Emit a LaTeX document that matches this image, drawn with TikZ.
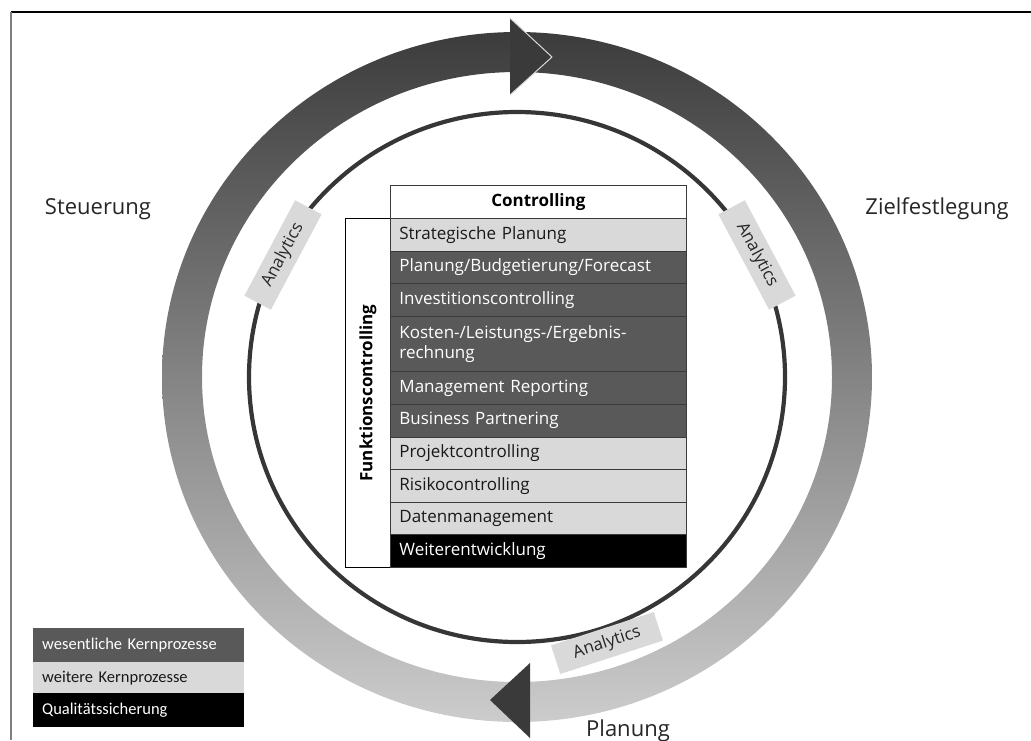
\documentclass[tikz,border=0pt]{standalone}
\usepackage{fontspec}
\setmainfont{Open Sans}
\newfontfamily\legendfont{Carlito}
\definecolor{ringtop}{HTML}{3C3C3C}
\definecolor{ringmid}{HTML}{686868}
\definecolor{ringbottom}{HTML}{CCCCCC}
\definecolor{arrowfill}{HTML}{3A3A3A}
\definecolor{circleline}{HTML}{363636}
\definecolor{lightrow}{HTML}{D9D9D9}
\definecolor{darkrow}{HTML}{595959}
\definecolor{rowline}{HTML}{3A3A3A}
\begin{document}
\begin{tikzpicture}[x=1pt, y=-1pt,
    rowlight/.style={draw=rowline, line width=0.8pt, fill=lightrow, text=black!90,
      anchor=north west, minimum width=296pt, text width=278pt, inner xsep=9pt,
      align=left, font=\fontsize{17}{20}\selectfont},
    rowdark/.style={rowlight, fill=darkrow, text=white},
    rowblack/.style={rowlight, fill=black, text=white},
    analyticsbox/.style={fill=lightrow, minimum width=108pt, minimum height=30pt,
      inner sep=0pt, text=black!85, font=\fontsize{17}{20}\selectfont},
    phaselabel/.style={anchor=base, text=black!85, font=\fontsize{22}{26}\selectfont},
    legendrow/.style={anchor=north west, minimum width=211pt, text width=193pt,
      inner xsep=9pt, align=left, font=\legendfont\fontsize{16.5}{19}\selectfont}]
  \useasboundingbox (0,0) rectangle (1031,740);
  % frame
  \draw[black, line width=1.2pt] (11,12) -- (1031,12);
  \draw[gray, line width=1.5pt] (11,12) -- (11,740);

  \coordinate (hub) at (517,377);
  % outer ring with both arrow heads
  \shade[top color=ringtop, middle color=ringmid, bottom color=ringbottom, even odd rule]
    (hub) ellipse [x radius=355, y radius=345] (hub) ellipse [x radius=315, y radius=305];
  \fill[arrowfill] (510,18) -- (552,57) -- (510,95) -- cycle;
  \draw[lightrow, line width=1pt] (510,18) -- (552,57) -- (510,95);
  \fill[arrowfill] (530,663) -- (490,700) -- (530,738) -- cycle;

  % inner circle
  \draw[circleline, line width=4.2pt] (hub) ellipse [x radius=268, y radius=265];
  \node[analyticsbox, rotate=62] (analyticsleft) at (283,255) {Analytics};
  \node[analyticsbox, rotate=-62] (analyticsright) at (757,255) {Analytics};
  \node[analyticsbox, rotate=18] (analyticsbottom) at (607,643) {Analytics};

  \node[phaselabel] (steuerung) at (98,214) {Steuerung};
  \node[phaselabel] (ziel) at (937,214) {Zielfestlegung};
  \node[phaselabel] (planung) at (628,736) {Planung};

  % table
  \node[draw=black, line width=1pt, anchor=north west, minimum width=45pt,
    minimum height=349pt, inner sep=0pt] (funktion) at (345,218) {};
  \node[rotate=90, font=\fontsize{17}{20}\selectfont\bfseries] (funktionlabel)
    at (funktion.center) {Funktionscontrolling};
  \node[draw=rowline, line width=0.8pt, fill=white, anchor=north west, minimum width=296pt,
    minimum height=33pt, font=\fontsize{17}{20}\selectfont\bfseries] (controlling)
    at (390,185) {Controlling};
  \node[rowlight, minimum height=32.6pt] (strategie) at (390,218) {Strategische Planung};
  \node[rowdark, minimum height=32.6pt] (budget) at (390,250.6) {Planung/Budgetierung/Forecast};
  \node[rowdark, minimum height=32.6pt] (invest) at (390,283.2) {Investitionscontrolling};
  \node[rowdark, minimum height=55.6pt] (kosten) at (390,315.8) {Kosten-/Leistungs-/Ergebnis-\\rechnung};
  \node[rowdark, minimum height=32.6pt] (reporting) at (390,371.4) {Management Reporting};
  \node[rowdark, minimum height=32.6pt] (partner) at (390,404) {Business Partnering};
  \node[rowlight, minimum height=32.6pt] (projekt) at (390,436.6) {Projektcontrolling};
  \node[rowlight, minimum height=32.6pt] (risiko) at (390,469.2) {Risikocontrolling};
  \node[rowlight, minimum height=32.6pt] (daten) at (390,501.8) {Datenmanagement};
  \node[rowblack, minimum height=32.6pt] (weiter) at (390,534.4) {Weiterentwicklung};

  % legend
  \node[legendrow, fill=darkrow, text=white, minimum height=34pt] (kern) at (33,628) {wesentliche Kernprozesse};
  \node[legendrow, fill=lightrow, text=black!90, minimum height=31pt] (weitere) at (33,662) {weitere Kernprozesse};
  \node[legendrow, fill=black, text=white, minimum height=34pt] (quali) at (33,693) {Qualitätssicherung};
\end{tikzpicture}
\end{document}
